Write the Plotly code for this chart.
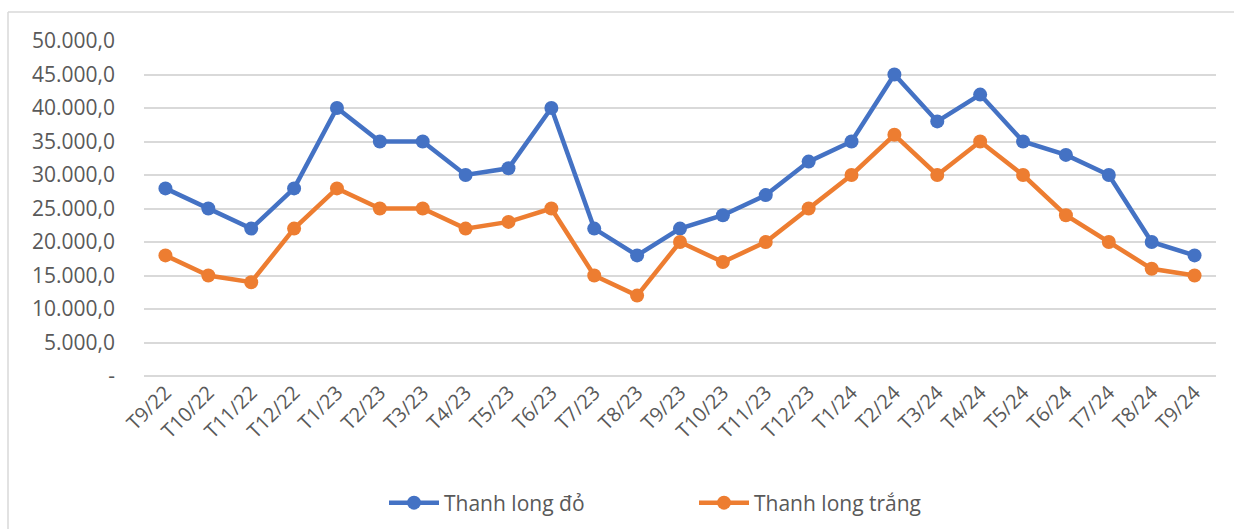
import plotly.graph_objects as go

categories = ["T9/22", "T10/22", "T11/22", "T12/22", "T1/23", "T2/23", "T3/23", "T4/23",
              "T5/23", "T6/23", "T7/23", "T8/23", "T9/23", "T10/23", "T11/23", "T12/23",
              "T1/24", "T2/24", "T3/24", "T4/24", "T5/24", "T6/24", "T7/24", "T8/24", "T9/24"]
thanh_long_do = [28000, 25000, 22000, 28000, 40000, 35000, 35000, 30000, 31000, 40000,
                 22000, 18000, 22000, 24000, 27000, 32000, 35000, 45000, 38000, 42000,
                 35000, 33000, 30000, 20000, 18000]
thanh_long_trang = [18000, 15000, 14000, 22000, 28000, 25000, 25000, 22000, 23000, 25000,
                    15000, 12000, 20000, 17000, 20000, 25000, 30000, 36000, 30000, 35000,
                    30000, 24000, 20000, 16000, 15000]
y_tickvals = [0, 5000, 10000, 15000, 20000, 25000, 30000, 35000, 40000, 45000, 50000]
y_ticktext = ["-", "5.000,0", "10.000,0", "15.000,0", "20.000,0", "25.000,0",
              "30.000,0", "35.000,0", "40.000,0", "45.000,0", "50.000,0"]

BLUE = "#4472C4"
ORANGE = "#ED7D31"
TEXT = "#595959"
GRID = "#D9D9D9"

fig = go.Figure()
fig.add_trace(go.Scatter(x=categories, y=thanh_long_do, name="Thanh long đỏ",
                         mode="lines+markers",
                         line=dict(color=BLUE, width=4.5),
                         marker=dict(color=BLUE, size=14)))
fig.add_trace(go.Scatter(x=categories, y=thanh_long_trang, name="Thanh long trắng",
                         mode="lines+markers",
                         line=dict(color=ORANGE, width=4.5),
                         marker=dict(color=ORANGE, size=14)))

W, H = 1234, 529
L, R, T, B = 144, 18, 41, 153
pw, ph = W - L - R, H - T - B

fig.update_layout(
    width=W, height=H,
    margin=dict(l=L, r=R, t=T, b=B, pad=0, autoexpand=False),
    paper_bgcolor="white", plot_bgcolor="white",
    font=dict(family="Open Sans, Liberation Sans, sans-serif", size=21, color=TEXT),
    showlegend=True,
    legend=dict(orientation="h", x=(694 - L) / pw, xanchor="center",
                y=(376 - 503) / ph, yanchor="middle",
                font=dict(size=21, color=TEXT), itemwidth=50,
                tracegroupgap=0, traceorder="normal", entrywidth=245),
    xaxis=dict(type="category", tickangle=-45, showgrid=False, zeroline=False,
               showline=False, ticks="", tickfont=dict(size=20, color=TEXT),
               automargin=False,
               range=[-0.5, len(categories) - 0.5]),
    yaxis=dict(range=[0, 50000], tickvals=y_tickvals, ticktext=y_ticktext,
               showgrid=True, gridcolor=GRID, gridwidth=1.5,
               zeroline=True, zerolinecolor=GRID, zerolinewidth=1.5,
               showline=False, ticks="", tickfont=dict(size=21, color=TEXT),
               automargin=False, ticklabelstandoff=28),
    shapes=[
        dict(type="line", xref="paper", yref="paper",
             x0=(8 - L) / pw, x1=(W + 5 - L) / pw,
             y0=(376 - 12) / ph, y1=(376 - 12) / ph,
             line=dict(color=GRID, width=1.5)),
        dict(type="line", xref="paper", yref="paper",
             x0=(8 - L) / pw, x1=(8 - L) / pw,
             y0=(376 - 12) / ph, y1=(376 - H - 5) / ph,
             line=dict(color=GRID, width=1.5)),
    ],
)

fig.write_html("out.html", config={"displayModeBar": False},
               post_script="document.body.style.margin='0';document.body.style.overflow='hidden';")
